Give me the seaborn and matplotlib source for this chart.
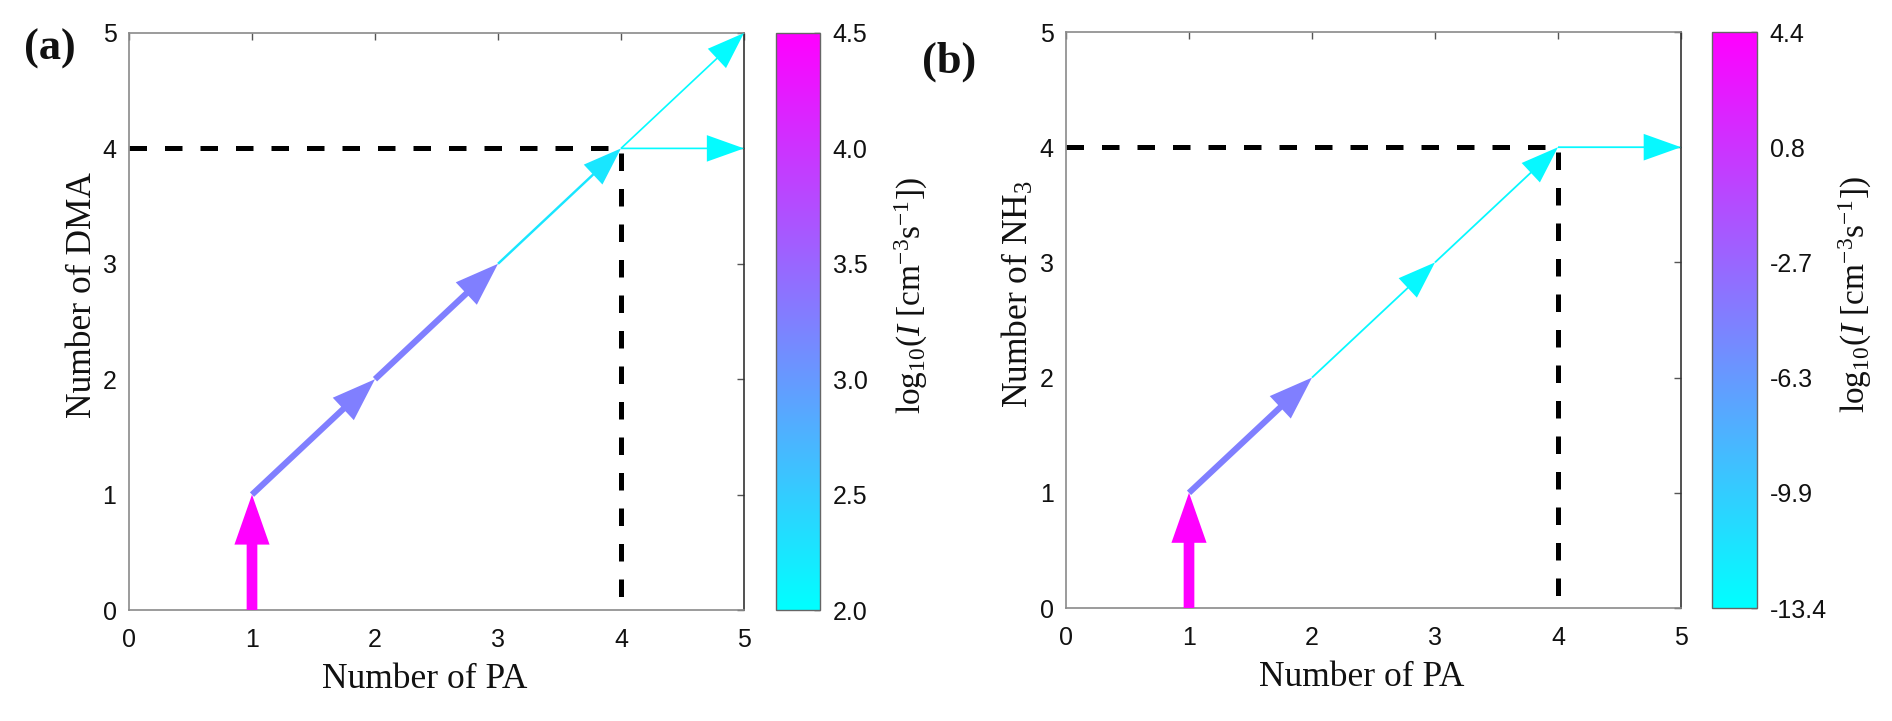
import numpy as np
import matplotlib
matplotlib.use("Agg")
import matplotlib.pyplot as plt
import seaborn as sns
from matplotlib.patches import FancyArrowPatch, ArrowStyle
from matplotlib.colors import Normalize
from matplotlib.cm import ScalarMappable

# ---------------- data ----------------
# Panel (a): PA + DMA pathway
a_x0 = [1, 1, 2, 3, 4, 4]
a_y0 = [0, 1, 2, 3, 4, 4]
a_x1 = [1, 2, 3, 4, 5, 5]
a_y1 = [1, 2, 3, 4, 5, 4]
a_rate = [4.5, 3.25, 3.25, 2.25, 2.04, 2.04]
a_cmin, a_cmax = 2.0, 4.5
a_ctick_labels = ["2.0", "2.5", "3.0", "3.5", "4.0", "4.5"]

# Panel (b): PA + NH3 pathway
b_x0 = [1, 1, 2, 3, 4]
b_y0 = [0, 1, 2, 3, 4]
b_x1 = [1, 2, 3, 4, 5]
b_y1 = [1, 2, 3, 4, 4]
b_rate = [4.4, -4.5, -12.9, -12.9, -12.9]
b_cmin, b_cmax = -13.4, 4.4
b_ctick_labels = ["-13.4", "-9.9", "-6.3", "-2.7", "0.8", "4.4"]

# dashed guide (4 PA, 4 base)
guide_x = [0, 4, 4]
guide_y = [4, 4, 0]

axis_ticks = [0, 1, 2, 3, 4, 5]

# ---------------- style ----------------
sns.set_theme(style="white")
plt.rcParams["font.family"] = ["Liberation Sans", "DejaVu Sans"]
plt.rcParams["mathtext.fontset"] = "custom"
plt.rcParams["mathtext.rm"] = "Liberation Serif"
plt.rcParams["mathtext.it"] = "Liberation Serif:italic"
plt.rcParams["mathtext.bf"] = "Liberation Serif:bold"

SERIF = ["Liberation Serif", "DejaVu Serif"]
cmap = plt.get_cmap("cool")

fig = plt.figure(figsize=(18.92, 7.21), dpi=100)
W, H = 1892.0, 721.0


def rect(x0, x1, ytop, ybot):
    return [x0 / W, 1 - ybot / H, (x1 - x0) / W, (ybot - ytop) / H]


def draw_panel(ax, cax, x0, y0, x1, y1, rate, cmin, cmax, ctl, ylabel, cbar_label, cbx):
    norm = Normalize(vmin=cmin, vmax=cmax)
    # dashed guide lines
    sns.lineplot(x=guide_x, y=guide_y, ax=ax, sort=False, estimator=None,
                 color="black", lw=3.6, linestyle=(0, (3.5, 3.6)), zorder=2)
    # arrows
    for xa, ya, xb, yb, r in zip(x0, y0, x1, y1, rate):
        t = norm(r)
        tw = 1.1 + 6.6 * t
        hl = 26.6 + 9.4 * t
        hw = 19.0 + 6.3 * t
        arr = FancyArrowPatch((xa, ya), (xb, yb),
                              arrowstyle=ArrowStyle.Simple(head_length=hl, head_width=hw, tail_width=tw),
                              mutation_scale=1, shrinkA=0, shrinkB=0,
                              color=cmap(t), lw=0, zorder=3, clip_on=False)
        ax.add_patch(arr)
    ax.set_xlim(0, 5)
    ax.set_ylim(0, 5)
    ax.set_xticks(axis_ticks)
    ax.set_yticks(axis_ticks)
    ax.tick_params(direction="in", length=5, width=1, colors="#555555",
                   top=True, right=True, labelsize=18, labelcolor="#111111")
    ax.tick_params(axis="x", pad=13)
    ax.tick_params(axis="y", pad=9)
    for side in ["left", "bottom", "top"]:
        ax.spines[side].set_color("#8a8a8a")
        ax.spines[side].set_linewidth(1.2)
    ax.spines["right"].set_color("#333333")
    ax.spines["right"].set_linewidth(1.2)
    ax.set_xlabel("Number of PA", fontsize=25.5, family=SERIF, color="#111111")
    ax.set_ylabel(ylabel, fontsize=25.5, family=SERIF, color="#111111")
    ax.xaxis.set_label_coords(0.48, -0.092)
    ax.yaxis.set_label_coords(-0.049, 0.545)

    sm = ScalarMappable(norm=norm, cmap=cmap)
    cb = fig.colorbar(sm, cax=cax)
    cb.set_ticks(np.linspace(cmin, cmax, len(ctl)))
    cb.set_ticklabels(ctl)
    cax.tick_params(direction="in", length=4, width=1, colors="#333333",
                    labelsize=18, labelcolor="#111111", pad=9)
    cb.outline.set_edgecolor("#666666")
    cb.outline.set_linewidth(1.0)
    cb.set_label(cbar_label, fontsize=24, family=SERIF, color="#111111")
    cax.yaxis.set_label_coords(cbx, 0.545)


axA = fig.add_axes(rect(129, 744, 33, 610))
caxA = fig.add_axes(rect(776, 820, 33, 610))
axB = fig.add_axes(rect(1066, 1681, 32, 608))
caxB = fig.add_axes(rect(1712, 1757, 32, 608))

cbl = r"log$_{10}$($\mathit{I}$ [cm$^{-3}$s$^{-1}$])"
draw_panel(axA, caxA, a_x0, a_y0, a_x1, a_y1, a_rate, a_cmin, a_cmax, a_ctick_labels,
           "Number of DMA", cbl, 2.66)
draw_panel(axB, caxB, b_x0, b_y0, b_x1, b_y1, b_rate, b_cmin, b_cmax, b_ctick_labels,
           r"Number of NH$_3$", cbl, 2.78)

fig.text(50 / W, 1 - 49 / H, "(a)", fontsize=32, fontweight="bold", family=SERIF,
         ha="center", va="center", color="#111111")
fig.text(949 / W, 1 - 62 / H, "(b)", fontsize=32, fontweight="bold", family=SERIF,
         ha="center", va="center", color="#111111")

fig.savefig("out.png", dpi=100, facecolor="white")
